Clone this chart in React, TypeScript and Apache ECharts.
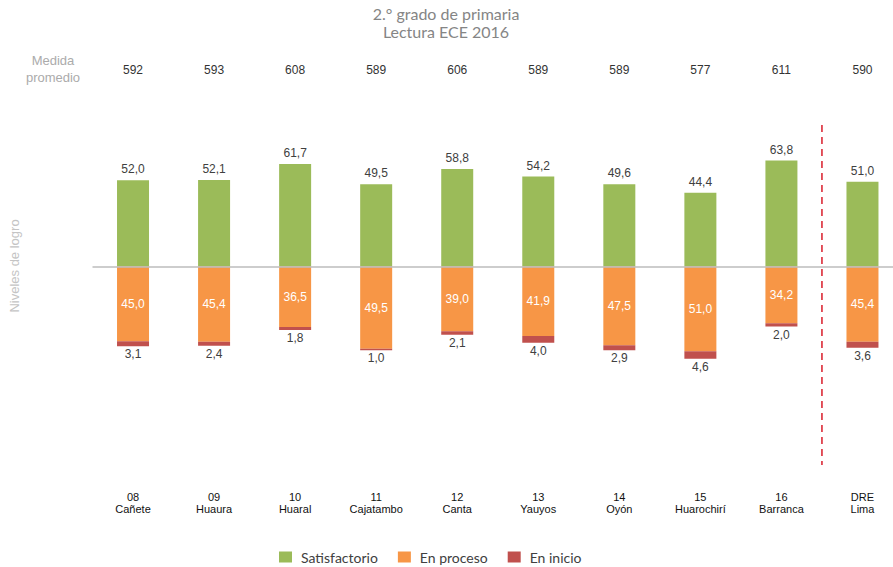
import React, { useEffect, useRef } from "react";
import * as echarts from "echarts";

const categories = ["08\nCañete", "09\nHuaura", "10\nHuaral", "11\nCajatambo", "12\nCanta", "13\nYauyos", "14\nOyón", "15\nHuarochirí", "16\nBarranca", "DRE\nLima"];
const medidaPromedio = [592, 593, 608, 589, 606, 589, 589, 577, 611, 590];
const satisfactorio = [52.0, 52.1, 61.7, 49.5, 58.8, 54.2, 49.6, 44.4, 63.8, 51.0];
const enProceso = [45.0, 45.4, 36.5, 49.5, 39.0, 41.9, 47.5, 51.0, 34.2, 45.4];
const enInicio = [3.1, 2.4, 1.8, 1.0, 2.1, 4.0, 2.9, 4.6, 2.0, 3.6];
// separator between UGEL 16 and DRE (between category index 8 and 9)
const separatorX = 8.5;

const fmt = (v: number) => Math.abs(v).toFixed(1).replace(".", ",");

export default function App() {
  const ref = useRef<HTMLDivElement>(null);
  useEffect(() => {
    if (!ref.current) return;
    const chart = echarts.init(ref.current, undefined, { renderer: "svg" });
    const font = "'Liberation Sans', Arial, sans-serif";
    chart.setOption({
      animation: false,
      backgroundColor: "#ffffff",
      title: {
        text: "2.° grado de primaria\nLectura ECE 2016",
        left: 441,
        top: 0,
        textAlign: "center",
        textStyle: { color: "#858585", fontSize: 16, fontWeight: "normal", lineHeight: 17.5, fontFamily: "Lato, sans-serif" },
      },
      legend: {
        top: 545,
        left: 274,
        icon: "rect",
        itemWidth: 13,
        itemHeight: 11,
        itemGap: 20,
        textStyle: { color: "#404040", fontSize: 14, fontFamily: "Lato, sans-serif", padding: [0, 0, 0, 4] },
        data: ["Satisfactorio", "En proceso", "En inicio"],
      },
      graphic: [
        {
          type: "text",
          x: 53,
          y: 68.5,
          style: { text: "Medida\npromedio", fill: "#ababab", fontSize: 13, lineHeight: 17, align: "center", verticalAlign: "middle", fontFamily: font },
        },
        {
          type: "text",
          x: 14,
          y: 266,
          rotation: Math.PI / 2,
          style: { text: "Niveles de logro", fill: "#c4c4c4", fontSize: 13, align: "center", verticalAlign: "middle", fontFamily: font },
        },
      ],
      grid: { left: 92.5, right: 0, top: 100.5, height: 381.8, containLabel: false },
      xAxis: [
        {
          type: "category",
          data: categories,
          position: "bottom",
          axisLine: { show: false, onZero: false },
          axisTick: { show: false },
          axisLabel: { color: "#111", fontSize: 11, lineHeight: 12, margin: 9, fontFamily: font, interval: 0 },
        },
        {
          type: "category",
          data: medidaPromedio.map(String),
          position: "top",
          axisLine: { show: false },
          axisTick: { show: false },
          axisLabel: { color: "#333", fontSize: 12, margin: 25, fontFamily: font, interval: 0 },
        },
        { type: "value", min: -0.5, max: 9.5, show: false },
      ],
      yAxis: { type: "value", min: -130, max: 100, show: false },
      series: [
        {
          name: "Satisfactorio",
          type: "bar",
          stack: "a",
          barWidth: 32,
          data: satisfactorio,
          itemStyle: { color: "#9BBB59" },
          label: { show: true, position: "top", distance: 5, color: "#404040", fontSize: 12, fontFamily: font, formatter: (p: any) => fmt(p.value) },
          markLine: {
            silent: true,
            symbol: "none",
            label: { show: false },
            lineStyle: { color: "#bdbdbd", width: 1.5, type: "solid" },
            data: [{ yAxis: 0 }],
            z: 5,
          },
        },
        {
          name: "En proceso",
          type: "bar",
          stack: "a",
          barWidth: 32,
          data: enProceso.map((v) => -v),
          itemStyle: { color: "#F79646" },
          label: { show: true, position: "inside", color: "#ffffff", fontSize: 12, fontFamily: font, formatter: (p: any) => fmt(p.value) },
        },
        {
          name: "En inicio",
          type: "bar",
          stack: "a",
          barWidth: 32,
          data: enInicio.map((v) => -v),
          itemStyle: { color: "#C0504D" },
          label: { show: true, position: "bottom", distance: 2, color: "#404040", fontSize: 12, fontFamily: font, formatter: (p: any) => fmt(p.value) },
        },
        {
          name: "separator",
          type: "line",
          xAxisIndex: 2,
          symbol: "none",
          silent: true,
          lineStyle: { color: "#d91c2a", width: 1.5, type: [7, 5] },
          data: [
            [separatorX, 85.2],
            [separatorX, -119.6],
          ],
        },
      ],
    });
    return () => chart.dispose();
  }, []);
  return (
    <div style={{ position: "fixed", left: 0, top: 0, width: 893, height: 567, overflow: "hidden" }}>
      <div ref={ref} style={{ width: 903, height: 567 }} />
    </div>
  );
}
